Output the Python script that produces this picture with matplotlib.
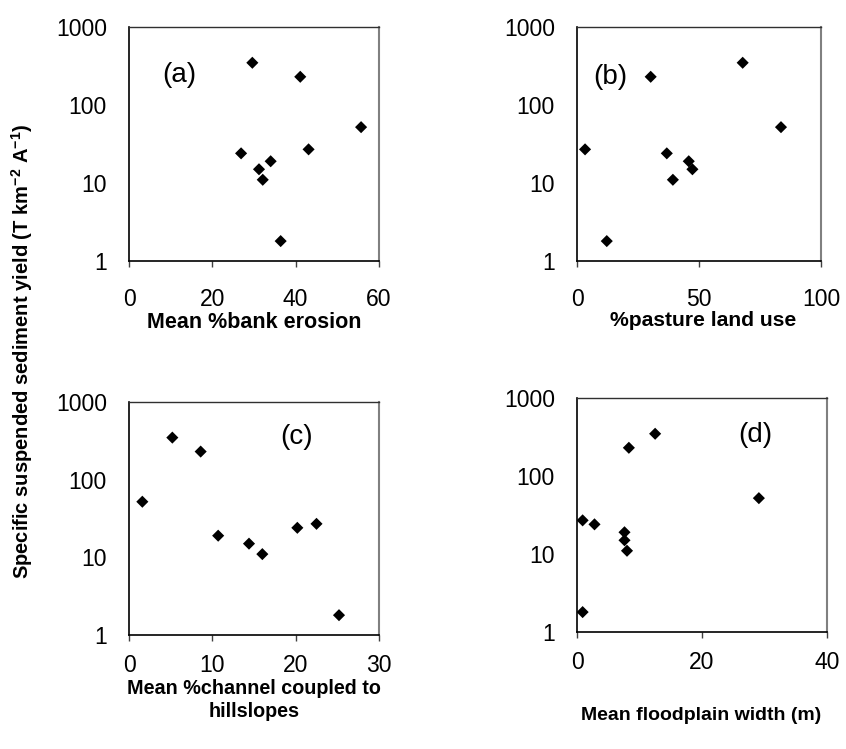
import matplotlib
matplotlib.use("Agg")
import matplotlib.pyplot as plt

plt.rcParams['font.family'] = ['Liberation Sans', 'DejaVu Sans']
plt.rcParams['mathtext.fontset'] = 'custom'
plt.rcParams['mathtext.rm'] = 'Liberation Sans:bold'
plt.rcParams['mathtext.bf'] = 'Liberation Sans:bold'
plt.rcParams['mathtext.it'] = 'Liberation Sans:bold'

# Specific suspended sediment yield (T km-2 A-1), same catchments in every panel
yield_vals = [348, 230, 52, 27, 24, 19, 15, 11, 1.8]

bank_erosion = [29.6, 41.1, 55.7, 43.1, 26.9, 34.0, 31.2, 32.1, 36.4]
pasture = [67.9, 30.2, 83.6, 3.3, 36.8, 45.8, 47.3, 39.3, 12.2]
channel_coupled = [5.2, 8.6, 1.6, 22.5, 20.2, 10.7, 14.4, 16.0, 25.2]
floodplain_width = [12.5, 8.3, 29.1, 0.9, 2.8, 7.6, 7.6, 8.0, 0.9]

panel_letters = ["(a)", "(b)", "(c)", "(d)"]
x_labels = ["Mean %bank erosion", "%pasture land use",
            "Mean %channel coupled to\nhillslopes", "Mean floodplain width (m)"]
x_ticks = [[0, 20, 40, 60], [0, 50, 100], [0, 10, 20, 30], [0, 20, 40]]
y_ticks = [1, 10, 100, 1000]
y_label = r"Specific suspended sediment yield (T km$^{-2}$ A$^{-1}$)"

W, H = 846, 749
fig = plt.figure(figsize=(W / 100, H / 100), dpi=100)

# axes boxes in pixels: left, top, right, bottom
boxes = [(129, 27, 379, 261), (577, 27, 821, 261),
         (129, 402, 379, 635), (577, 398, 827, 632)]
xs_all = [bank_erosion, pasture, channel_coupled, floodplain_width]
letter_pos = [(0.20, 0.795), (0.135, 0.785), (0.672, 0.85), (0.712, 0.842)]
label_pos = [(254, 322), (703, 321), (254, 700), (701, 715)]
label_size = [15.5, 15.2, 14.2, 14.0]
xtick_pad = [15.5, 15.5, 9.5, 9.5]

for i in range(4):
    l, t, r, b = boxes[i]
    ax = fig.add_axes([l / W, 1 - b / H, (r - l) / W, (b - t) / H])
    ax.scatter(xs_all[i], yield_vals, marker='D', s=38, color='black',
               edgecolors='none', zorder=3)
    ax.set_yscale('log')
    ax.set_ylim(1, 1000)
    ax.set_xlim(x_ticks[i][0], x_ticks[i][-1])
    ax.set_xticks(x_ticks[i])
    ax.set_xticklabels([str(v) for v in x_ticks[i]])
    ax.set_yticks(y_ticks)
    ax.set_yticklabels([str(v) for v in y_ticks])
    ax.yaxis.set_minor_locator(matplotlib.ticker.NullLocator())
    ax.tick_params(axis='x', direction='out', length=4.3, width=1,
                   labelsize=16.5, pad=xtick_pad[i], color='#404040')
    ax.tick_params(axis='y', length=0, labelsize=16.5, pad=16)
    for s in ['left', 'bottom']:
        ax.spines[s].set_color('black')
        ax.spines[s].set_linewidth(1.2)
    ax.spines['top'].set_color('#303030')
    ax.spines['right'].set_color('#808080')
    ax.spines['top'].set_linewidth(1.0)
    ax.spines['right'].set_linewidth(1.5)
    ax.text(letter_pos[i][0], letter_pos[i][1], panel_letters[i],
            transform=ax.transAxes, fontsize=20, ha='center', va='center')
    fig.text(label_pos[i][0] / W, 1 - label_pos[i][1] / H, x_labels[i],
             fontsize=label_size[i], fontweight='bold',
             ha='center', va='center', linespacing=1.3)

fig.text(22 / W, 1 - 351 / H, y_label, rotation=90, fontsize=14.5,
         fontweight='bold', ha='center', va='center')

fig.savefig("out.png", dpi=100)
